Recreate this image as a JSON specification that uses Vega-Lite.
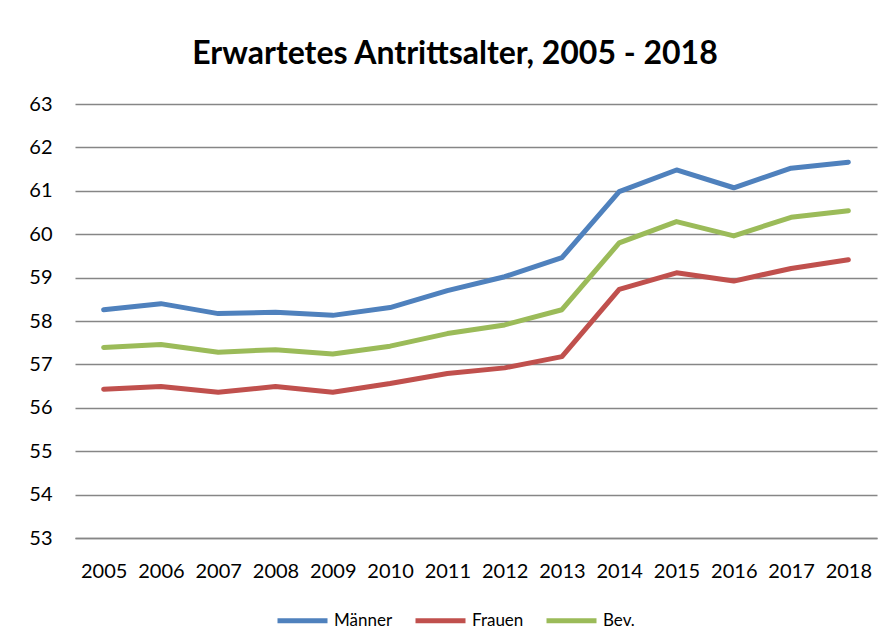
{
  "$schema": "https://vega.github.io/schema/vega-lite/v6.json",
  "autosize": "none",
  "width": 802,
  "height": 434,
  "padding": {"left": 75, "top": 104, "right": 14, "bottom": 106},
  "background": "white",
  "title": {
    "text": "Erwartetes Antrittsalter, 2005 - 2018",
    "font": "Lato",
    "fontSize": 32,
    "fontWeight": "bold",
    "color": "black",
    "anchor": "middle",
    "offset": 23,
    "dx": -21
  },
  "config": {
    "view": {"stroke": null},
    "font": "Lato"
  },
  "data": {
    "values": [
      {"year": "2005", "series": "Männer", "value": 58.26},
      {"year": "2006", "series": "Männer", "value": 58.40},
      {"year": "2007", "series": "Männer", "value": 58.17},
      {"year": "2008", "series": "Männer", "value": 58.20},
      {"year": "2009", "series": "Männer", "value": 58.13},
      {"year": "2010", "series": "Männer", "value": 58.31},
      {"year": "2011", "series": "Männer", "value": 58.70},
      {"year": "2012", "series": "Männer", "value": 59.02},
      {"year": "2013", "series": "Männer", "value": 59.46},
      {"year": "2014", "series": "Männer", "value": 60.98},
      {"year": "2015", "series": "Männer", "value": 61.48},
      {"year": "2016", "series": "Männer", "value": 61.07},
      {"year": "2017", "series": "Männer", "value": 61.52},
      {"year": "2018", "series": "Männer", "value": 61.66},
      {"year": "2005", "series": "Frauen", "value": 56.43},
      {"year": "2006", "series": "Frauen", "value": 56.49},
      {"year": "2007", "series": "Frauen", "value": 56.36},
      {"year": "2008", "series": "Frauen", "value": 56.49},
      {"year": "2009", "series": "Frauen", "value": 56.36},
      {"year": "2010", "series": "Frauen", "value": 56.56},
      {"year": "2011", "series": "Frauen", "value": 56.79},
      {"year": "2012", "series": "Frauen", "value": 56.92},
      {"year": "2013", "series": "Frauen", "value": 57.18},
      {"year": "2014", "series": "Frauen", "value": 58.73},
      {"year": "2015", "series": "Frauen", "value": 59.11},
      {"year": "2016", "series": "Frauen", "value": 58.92},
      {"year": "2017", "series": "Frauen", "value": 59.21},
      {"year": "2018", "series": "Frauen", "value": 59.41},
      {"year": "2005", "series": "Bev.", "value": 57.39},
      {"year": "2006", "series": "Bev.", "value": 57.46},
      {"year": "2007", "series": "Bev.", "value": 57.28},
      {"year": "2008", "series": "Bev.", "value": 57.34},
      {"year": "2009", "series": "Bev.", "value": 57.24},
      {"year": "2010", "series": "Bev.", "value": 57.42},
      {"year": "2011", "series": "Bev.", "value": 57.71},
      {"year": "2012", "series": "Bev.", "value": 57.91},
      {"year": "2013", "series": "Bev.", "value": 58.26},
      {"year": "2014", "series": "Bev.", "value": 59.80},
      {"year": "2015", "series": "Bev.", "value": 60.29},
      {"year": "2016", "series": "Bev.", "value": 59.96},
      {"year": "2017", "series": "Bev.", "value": 60.39},
      {"year": "2018", "series": "Bev.", "value": 60.54}
    ]
  },
  "mark": {"type": "line", "strokeWidth": 5, "strokeCap": "round", "strokeJoin": "round"},
  "encoding": {
    "x": {
      "field": "year",
      "type": "ordinal",
      "scale": {"type": "point", "padding": 0.5},
      "axis": {
        "title": null,
        "labelAngle": 0,
        "labelFontSize": 20,
        "labelColor": "black",
        "labelPadding": 23,
        "ticks": false,
        "domainColor": "#868686",
        "domainWidth": 1.5,
        "grid": false
      }
    },
    "y": {
      "field": "value",
      "type": "quantitative",
      "scale": {"domain": [53, 63], "nice": false, "zero": false},
      "axis": {
        "title": null,
        "values": [53, 54, 55, 56, 57, 58, 59, 60, 61, 62, 63],
        "labelFontSize": 20,
        "labelColor": "black",
        "labelPadding": 23,
        "ticks": false,
        "domain": false,
        "grid": true,
        "gridColor": "#868686",
        "gridWidth": 1.5
      }
    },
    "color": {
      "field": "series",
      "type": "nominal",
      "sort": ["Männer", "Frauen", "Bev."],
      "scale": {"domain": ["Männer", "Frauen", "Bev."], "range": ["#4F81BD", "#C0504D", "#9BBB59"]},
      "legend": {
        "title": null,
        "orient": "none",
        "direction": "horizontal",
        "legendX": 200,
        "legendY": 489,
        "symbolType": "stroke",
        "symbolSize": 2500,
        "symbolStrokeWidth": 5,
        "labelFontSize": 17,
        "labelColor": "black",
        "labelOffset": 4,
        "columnPadding": 12
      }
    }
  }
}
